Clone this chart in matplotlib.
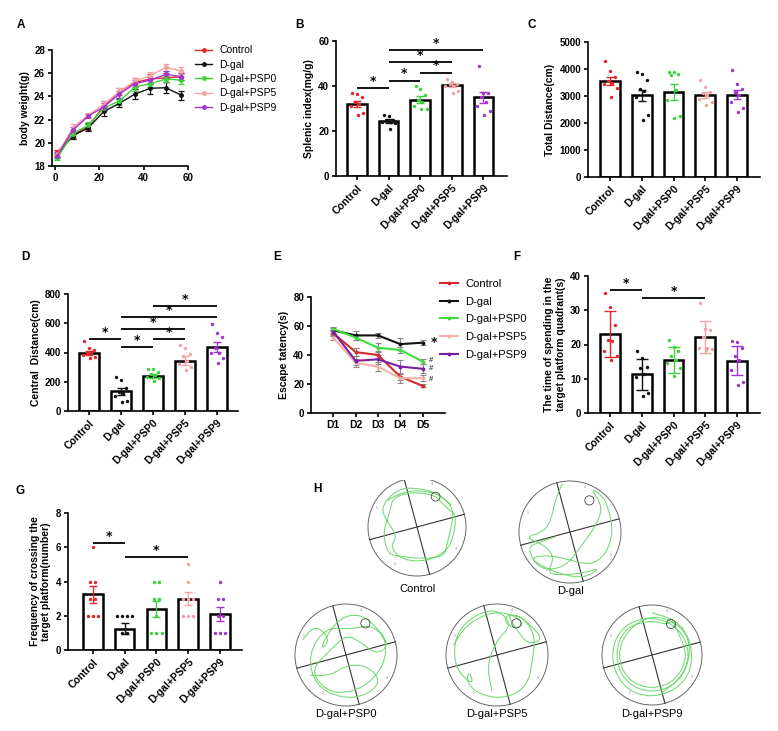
import numpy as np
import matplotlib
matplotlib.use("Agg")
import matplotlib.pyplot as plt
from matplotlib.path import Path
from matplotlib.patches import PathPatch, Circle
from matplotlib.lines import Line2D

plt.rcParams['font.family'] = ['Liberation Sans', 'DejaVu Sans']
plt.rcParams['font.weight'] = 'bold'
plt.rcParams['axes.labelweight'] = 'bold'

# ---------------- data ----------------
groups = ["Control", "D-gal", "D-gal+PSP0", "D-gal+PSP5", "D-gal+PSP9"]
colors = ["#e3262b", "#111111", "#3ad43a", "#f2a2a0", "#a234d0"]
line_colors_e = ["#d42a2a", "#111111", "#3fdc3f", "#f5b0ae", "#7a1fa0"]

# A: body weight
days = [1, 8, 15, 22, 29, 36, 43, 50, 57]
bw_control = [19.2, 20.7, 21.4, 23.2, 24.4, 25.2, 25.5, 25.6, 25.7]
bw_dgal = [19.0, 20.6, 21.3, 22.7, 23.4, 24.2, 24.7, 24.75, 24.1]
bw_psp0 = [18.7, 20.8, 21.5, 23.0, 23.6, 24.8, 25.1, 25.5, 25.4]
bw_psp5 = [19.0, 21.3, 22.4, 23.3, 24.4, 25.3, 25.8, 26.5, 26.2]
bw_psp9 = [18.9, 21.1, 22.3, 23.1, 24.2, 25.1, 25.4, 25.9, 25.7]
bw_err_control = [0.2, 0.3, 0.3, 0.4, 0.3, 0.4, 0.4, 0.4, 0.3]
bw_err_dgal = [0.2, 0.3, 0.3, 0.35, 0.35, 0.45, 0.45, 0.45, 0.4]
bw_err_psp0 = [0.2, 0.3, 0.3, 0.3, 0.3, 0.3, 0.3, 0.3, 0.3]
bw_err_psp5 = [0.2, 0.3, 0.2, 0.3, 0.3, 0.3, 0.3, 0.3, 0.3]
bw_err_psp9 = [0.2, 0.3, 0.2, 0.3, 0.3, 0.3, 0.3, 0.3, 0.3]

# B: splenic index
spl_mean = [32.0, 24.5, 34.0, 40.5, 35.0]
spl_sem = [1.5, 1.0, 1.5, 1.0, 2.5]
spl_pts = [[37, 36.5, 35, 33, 31, 32, 28, 27],
           [27, 26.5, 25, 24, 24, 23.5, 21, 25],
           [40, 38.5, 36, 34, 33, 31, 30, 30],
           [43, 42, 41, 41, 40, 40, 38, 37],
           [49, 37, 37, 35, 33, 31, 29, 27]]
spl_sig = [(0, 1, 39.0), (1, 2, 42.3), (2, 3, 45.9), (1, 3, 50.5), (1, 4, 56.0)]

# C: total distance
td_mean = [3550, 3030, 3150, 3030, 3050]
td_sem = [150, 200, 280, 120, 170]
td_pts = [[4300, 3930, 3700, 3550, 3450, 3500, 3280, 2960],
          [3890, 3830, 3600, 3250, 3200, 2950, 2280, 2120],
          [3890, 3890, 3830, 3770, 3230, 2840, 2250, 2190],
          [3600, 3330, 3150, 3020, 2900, 2780, 2650, 3100],
          [3980, 3430, 3270, 3150, 3020, 2780, 2570, 2410]]

# D: central distance
cd_mean = [395, 135, 240, 345, 440]
cd_sem = [15, 25, 15, 30, 35]
cd_pts = [[480, 430, 415, 395, 385, 370, 360, 400],
          [235, 215, 155, 120, 100, 65, 60, 130],
          [290, 285, 270, 250, 235, 225, 205, 245],
          [450, 430, 375, 340, 300, 280, 320, 390],
          [595, 535, 505, 430, 395, 360, 325, 400]]
cd_sig = [(0, 1, 493), (1, 2, 436), (2, 3, 493), (1, 3, 560), (1, 4, 642), (2, 4, 716)]

# E: escape latency
e_days = ["D1", "D2", "D3", "D4", "D5"]
el_control = [55, 42, 40, 25, 18.7]
el_dgal = [57, 53.5, 53.5, 47.5, 48.5]
el_psp0 = [58, 52, 45, 43.5, 35.5]
el_psp5 = [52, 34.5, 32, 24, 24]
el_psp9 = [56, 36, 37, 32, 30.5]
el_err_control = [2, 3, 2.5, 2, 1]
el_err_dgal = [1.5, 3, 1.5, 4, 1.5]
el_err_psp0 = [1.5, 2, 3, 2, 2]
el_err_psp5 = [2, 3, 3, 3, 2]
el_err_psp9 = [1.5, 3, 3, 4.5, 3]

# F: time in target quadrant
tq_mean = [23.0, 11.3, 15.5, 22.3, 15.3]
tq_sd = [6.7, 4.5, 3.8, 4.7, 4.3]
tq_pts = [[35, 31, 25.7, 21.4, 21, 18, 16.5, 15.5],
          [18, 16, 13.4, 13, 11.5, 10.5, 5.8, 4.9],
          [21.4, 19.4, 18, 16.5, 15.5, 14.6, 13.1, 10.7],
          [32, 24.3, 22.3, 19, 19, 18.7, 18.5, 24.5],
          [21, 20.8, 19, 16.5, 15.5, 12.6, 8.3, 9.0]]
tq_sig = [(0, 1, 35.9), (1, 3, 33.5)]

# G: platform crossings
fc_mean = [3.25, 1.25, 2.4, 3.0, 2.1]
fc_sem = [0.5, 0.3, 0.45, 0.37, 0.4]
fc_pts = [[6, 4, 4, 3, 3, 2, 2, 2],
          [2, 2, 2, 2, 1, 1, 0, 0],
          [4, 4, 3, 3, 2, 1, 1, 1],
          [5, 4, 3, 3, 3, 2, 2, 2],
          [4, 3, 3, 2, 2, 1, 1, 1]]
fc_sig = [(0, 1, 6.24), (1, 3, 5.42)]

# H: swim paths (unit-circle coordinates, spline control points)
path_control = [(-0.6, 0.55), (-0.2, 0.75), (0.3, 0.72), (0.55, 0.6), (0.75, 0.35), (0.7, 0.0),
                (0.6, -0.4), (0.55, -0.6), (0.1, -0.65), (-0.35, -0.6), (-0.6, -0.55), (-0.7, -0.1),
                (-0.55, 0.3), (-0.5, 0.6), (-0.1, 0.72), (0.35, 0.65), (0.45, 0.55), (0.65, 0.35),
                (0.8, 0.25), (0.75, -0.2), (0.6, -0.5), (0.2, -0.7), (-0.3, -0.68), (-0.55, -0.4),
                (-0.4, -0.2), (-0.6, 0.1), (-0.75, 0.4), (-0.4, 0.78), (0.0, 0.8), (0.4, 0.7), (0.7, 0.45)]
path_dgal = [(-0.15, 0.95), (-0.3, 0.6), (-0.35, 0.3), (-0.5, 0.0), (-0.9, -0.1), (-0.5, -0.25),
             (-0.3, -0.5), (-0.45, -0.8), (-0.2, -0.85), (0.3, -0.8), (0.6, -0.7), (0.3, -0.9),
             (-0.1, -0.85), (-0.5, -0.7), (-0.8, -0.5), (-0.4, -0.45), (0.0, -0.55), (0.4, -0.65),
             (0.7, -0.45), (0.85, 0.0), (0.75, 0.5), (0.6, 0.75), (0.4, 0.85), (0.65, 0.5),
             (0.5, 0.1), (0.2, -0.3), (-0.1, -0.7), (-0.6, -0.75), (-0.85, -0.3), (-0.6, -0.2), (-0.3, -0.1)]
path_psp0 = [(-0.85, 0.3), (-0.6, 0.6), (-0.3, 0.3), (-0.5, 0.1), (-0.4, 0.35), (-0.1, 0.75),
             (0.3, 0.8), (0.6, 0.55), (0.85, 0.2), (0.6, 0.0), (0.3, 0.25), (0.0, 0.4),
             (-0.3, 0.1), (-0.7, -0.3), (-0.4, -0.7), (0.0, -0.75), (0.4, -0.6), (0.75, -0.2),
             (0.8, 0.3), (0.5, 0.6), (0.1, 0.5), (-0.4, 0.55), (-0.75, 0.0), (-0.6, -0.6),
             (-0.1, -0.85), (0.4, -0.8), (0.7, -0.5), (0.4, -0.2), (0.0, -0.2), (-0.3, -0.4), (-0.7, -0.4)]
path_psp5 = [(-0.85, 0.2), (-0.6, 0.6), (-0.1, 0.85), (0.3, 0.8), (0.55, 0.6), (0.3, 0.5),
             (0.1, 0.75), (0.4, 0.8), (0.7, 0.55), (0.9, 0.3), (0.6, 0.2), (0.35, 0.55),
             (0.2, 0.8), (0.5, 0.75), (0.75, 0.4), (0.7, -0.1), (0.6, -0.6), (0.2, -0.85),
             (-0.3, -0.8), (-0.6, -0.55), (-0.55, -0.3), (-0.45, -0.6), (-0.8, -0.3), (-0.85, 0.2),
             (-0.7, 0.55), (-0.4, 0.8), (0.0, 0.9), (0.3, 0.6), (0.0, 0.3), (-0.2, -0.2), (-0.1, -0.7)]
path_psp9 = [(0.0, 0.85), (0.6, 0.65), (0.85, 0.0), (0.65, -0.6), (0.0, -0.88), (-0.6, -0.65),
             (-0.85, 0.0), (-0.6, 0.6), (0.0, 0.78), (0.55, 0.55), (0.78, 0.0), (0.55, -0.55),
             (0.0, -0.78), (-0.55, -0.55), (-0.75, 0.0), (-0.55, 0.55), (0.0, 0.7), (0.3, 0.6),
             (0.4, 0.7), (0.5, 0.5), (0.72, 0.0), (0.5, -0.5), (0.0, -0.7), (-0.5, -0.5),
             (-0.7, 0.0), (-0.5, 0.5), (0.0, 0.82), (0.6, 0.6), (0.8, 0.1), (0.6, -0.45), (0.2, -0.75)]
swim_paths = [path_control, path_dgal, path_psp0, path_psp5, path_psp9]

# ---------------- layout ----------------
W, H = 778, 731
fig = plt.figure(figsize=(W / 100, H / 100), dpi=100)


def add_ax(l, t, r, b):
    return fig.add_axes([l / W, 1 - b / H, (r - l) / W, (b - t) / H])


def style(ax):
    for s in ["top", "right"]:
        ax.spines[s].set_visible(False)
    for s in ["left", "bottom"]:
        ax.spines[s].set_linewidth(1.2)
    ax.tick_params(direction="out", length=3, width=1.2, labelsize=7, pad=2)
    for lab in ax.get_xticklabels() + ax.get_yticklabels():
        lab.set_fontweight("bold")


def spread_offsets(vals):
    pattern = [-0.15, 0.0, 0.15, -0.07, 0.07, -0.2, 0.2, 0.03]
    order = np.argsort(vals)[::-1]
    offs = np.zeros(len(vals))
    for k, idx in enumerate(order):
        offs[idx] = pattern[k % len(pattern)]
    return offs


def discrete_offsets(vals):
    vals = np.asarray(vals)
    offs = np.zeros(len(vals))
    for v in np.unique(vals):
        idx = np.where(vals == v)[0]
        m = len(idx)
        for k, i in enumerate(idx):
            offs[i] = (k - (m - 1) / 2) * 0.16
    return offs


def bar_panel(ax, means, errs, pts, ylim, yticks, xlim, ylabel, discrete=False, cap=3):
    x = np.arange(len(groups))
    ax.bar(x, means, width=0.62, color="white", edgecolor="black", linewidth=1.8, zorder=1)
    for i in range(len(groups)):
        offs = discrete_offsets(pts[i]) if discrete else spread_offsets(pts[i])
        ax.scatter(x[i] + offs, pts[i], s=6, color=colors[i], zorder=3, linewidths=0)
        ax.errorbar(x[i], means[i], yerr=errs[i], fmt="none", ecolor=colors[i],
                    elinewidth=1.0, capsize=cap, capthick=1.0, zorder=4)
    ax.set_ylim(*ylim)
    ax.set_yticks(yticks)
    ax.set_xlim(*xlim)
    ax.set_xticks(x)
    ax.set_xticklabels(groups, rotation=45, ha="right", rotation_mode="anchor",
                       fontsize=7.5, fontweight="bold")
    ax.set_ylabel(ylabel, fontsize=7.5, fontweight="bold", labelpad=3)
    style(ax)
    for lab in ax.get_xticklabels():
        lab.set_fontsize(7.5)


def sig(ax, sigs, dy):
    for a, b, y in sigs:
        ax.plot([a, b], [y, y], color="black", lw=1.3, solid_capstyle="butt", zorder=5)
        ax.text((a + b) / 2, y + dy * 0.15, "*", ha="center", va="bottom",
                fontsize=9, fontweight="bold", family="DejaVu Sans")


# ---- A ----
axA = add_ax(52, 50, 188, 166)
bw = [bw_control, bw_dgal, bw_psp0, bw_psp5, bw_psp9]
bwe = [bw_err_control, bw_err_dgal, bw_err_psp0, bw_err_psp5, bw_err_psp9]
for i in range(5):
    axA.errorbar(days, bw[i], yerr=bwe[i], color=colors[i], marker="o", ms=2.5, lw=1.0,
                 elinewidth=0.9, capsize=2, capthick=0.9, label=groups[i])
axA.set_xlim(-1.4, 60)
axA.set_ylim(18, 28)
axA.set_xticks([0, 20, 40, 60])
axA.set_yticks([18, 20, 22, 24, 26, 28])
axA.set_ylabel("body weight(g)", fontsize=7.5, fontweight="bold", labelpad=3)
style(axA)
hA = [Line2D([0], [0], color=c, marker="o", ms=2.5, lw=1.0) for c in colors]
fig.legend(hA, groups, loc="upper left", bbox_to_anchor=(188 / W, 1 - 38 / H),
           frameon=False, prop={"size": 7.5, "weight": "normal"},
           handlelength=1.6, handletextpad=0.7, labelspacing=0.42, borderpad=0.2)

# ---- B ----
axB = add_ax(336, 41, 507, 176)
bar_panel(axB, spl_mean, spl_sem, spl_pts, (0, 60), [0, 20, 40, 60], (-0.67, 4.75),
          "Splenic index(mg/g)")
sig(axB, spl_sig, 1.0)

# ---- C ----
axC = add_ax(588, 42, 760, 177)
bar_panel(axC, td_mean, td_sem, td_pts, (0, 5000), [0, 1000, 2000, 3000, 4000, 5000],
          (-0.7, 4.73), "Total Distance(cm)")

# ---- D ----
axD = add_ax(68, 294, 238, 411)
bar_panel(axD, cd_mean, cd_sem, cd_pts, (0, 800), [0, 200, 400, 600, 800], (-0.66, 4.66),
          "Central  Distance(cm)")
sig(axD, cd_sig, 13)

# ---- E ----
axE = add_ax(311, 297, 445, 413)
el = [el_control, el_dgal, el_psp0, el_psp5, el_psp9]
ele = [el_err_control, el_err_dgal, el_err_psp0, el_err_psp5, el_err_psp9]
xe = np.arange(1, 6)
for i in range(5):
    axE.errorbar(xe, el[i], yerr=ele[i], color=line_colors_e[i], marker="o", ms=1.8, lw=1.5,
                 elinewidth=0.8, ecolor="#888888", capsize=2, capthick=0.8, label=groups[i])
axE.set_xlim(0, 6)
axE.set_ylim(0, 80)
axE.set_xticks(xe)
axE.set_xticklabels(e_days)
axE.set_yticks([0, 20, 40, 60, 80])
axE.set_ylabel("Escape tatency(s)", fontsize=7.5, fontweight="bold", labelpad=3)
style(axE)
for lab in axE.get_xticklabels():
    lab.set_fontsize(7.5)
axE.text(5.35, el_dgal[4], "*", fontsize=9, fontweight="bold", va="center", ha="left",
         family="DejaVu Sans")
for yv in [el_psp0[4] + 1.0, el_psp9[4], el_psp5[4] - 1.0]:
    axE.text(5.3, yv, "#", fontsize=5.5, fontweight="normal", va="center", ha="left")
hE = [Line2D([0], [0], color=c, marker="o", ms=1.8, lw=1.5) for c in line_colors_e]
fig.legend(hE, groups, loc="upper left", bbox_to_anchor=(432 / W, 1 - 271 / H),
           frameon=False, prop={"size": 8, "weight": "normal"},
           handlelength=1.6, handletextpad=0.7, labelspacing=0.7, borderpad=0.2)

# ---- F ----
axF = add_ax(588, 276, 760, 413)
bar_panel(axF, tq_mean, tq_sd, tq_pts, (0, 40), [0, 10, 20, 30, 40], (-0.7, 4.73),
          "The time of spending in the\ntarget platform quadrant(s)", cap=4)
sig(axF, tq_sig, 0.7)

# ---- G ----
axG = add_ax(68, 513, 242, 650)
bar_panel(axG, fc_mean, fc_sem, fc_pts, (0, 8), [0, 2, 4, 6, 8], (-0.78, 4.69),
          "Frequency of crossing the\ntarget platform(number)", discrete=True)
sig(axG, fc_sig, 0.15)

# ---- H ----
axH = add_ax(260, 480, 778, 731)
axH.set_xlim(260, 778)
axH.set_ylim(731, 480)
axH.axis("off")
centers = [(417, 527), (570, 532), (346, 655), (497, 655), (652, 655)]
radii = [49, 51, 51, 51, 50]
label_y = [589, 591, 714, 714, 714]
rot = np.deg2rad(15)


def smooth_path(verts):
    # quadratic B-spline style path: waypoints act as control points, midpoints as knots
    mids = (verts[:-1] + verts[1:]) / 2
    v = [verts[0], mids[0]]
    c = [Path.MOVETO, Path.LINETO]
    for i in range(1, len(verts) - 1):
        v += [verts[i], mids[i]]
        c += [Path.CURVE3, Path.CURVE3]
    v.append(verts[-1])
    c.append(Path.LINETO)
    return Path(np.array(v), c)


for k in range(5):
    cx, cy = centers[k]
    r = radii[k]
    axH.add_patch(Circle((cx, cy), r, fill=False, ec="#666666", lw=0.7))
    for ang in [rot, rot + np.pi / 2]:
        dx, dy = r * np.cos(ang), r * np.sin(ang)
        axH.plot([cx - dx, cx + dx], [cy + dy, cy - dy], color="#333333", lw=0.8)
    axH.add_patch(Circle((cx + 0.38 * r, cy - 0.62 * r), 0.09 * r, fill=False,
                         ec="#444444", lw=0.6, zorder=4))
    for num, (ux, uy) in zip(["1", "2", "3", "4"],
                             [(-0.82, 0.38), (-0.45, -0.75), (0.8, -0.45), (0.3, 0.88)]):
        axH.text(cx + ux * r, cy - uy * r, num, fontsize=2.5, color="#777777",
                 ha="center", va="center", fontweight="normal")
    pts = np.array(swim_paths[k])
    verts = np.column_stack([cx + pts[:, 0] * r, cy - pts[:, 1] * r])
    axH.add_patch(PathPatch(smooth_path(verts), fill=False, ec="#72d872", lw=0.75, zorder=3))
    axH.text(cx, label_y[k], groups[k], fontsize=8, ha="center", va="center",
             fontweight="normal")

# ---- panel letters ----
for letter, (px, py) in {"A": (21, 25), "B": (299, 25), "C": (532, 25), "D": (25, 257),
                         "E": (277, 257), "F": (517, 257), "G": (20, 491), "H": (317, 489)}.items():
    fig.text(px / W, 1 - py / H, letter, fontsize=8.5, fontweight="bold", ha="center", va="center")

fig.savefig("out.png", dpi=100)
